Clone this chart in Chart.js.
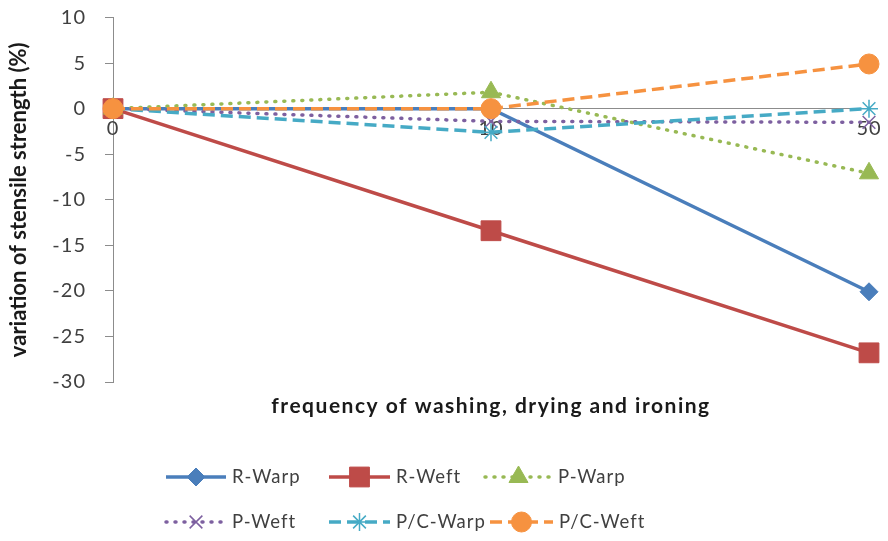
<!DOCTYPE html>
<html>
<head>
<meta charset="utf-8">
<script src="https://cdn.jsdelivr.net/npm/chart.js@4.4.1/dist/chart.umd.min.js"></script>
<style>
  html, body { margin: 0; padding: 0; background: #ffffff; }
  #wrap { width: 888px; height: 541px; position: relative; }
</style>
</head>
<body>
<div id="wrap"><canvas id="c" width="888" height="541"></canvas></div>
<script>
// Washing cycles (categories) and strength variation (%) per fabric/direction
const cycles = ['0', '10', '50'];
const rWarp   = [0, 0, -20.1];
const rWeft   = [0, -13.4, -26.8];
const pWarp   = [0, 1.8, -7.1];
const pWeft   = [0, -1.4, -1.5];
const pcWarp  = [0, -2.6, 0];
const pcWeft  = [0, 0, 4.9];
const seriesNames = ['R-Warp', 'R-Weft', 'P-Warp', 'P-Weft', 'P/C-Warp', 'P/C-Weft'];
const yTicks = [10, 5, 0, -5, -10, -15, -20, -25, -30];

const FONT = 'Lato, "Liberation Sans", sans-serif';
const TEXT = '#404040';
const AXIS = '#8c8c8c';

const styles = [
  { color: '#4A7EBB', dash: [],      cap: 'butt',  point: 'rectRot',  r: 9 },
  { color: '#BE4B48', dash: [],      cap: 'butt',  point: 'rect',     r: 14 },
  { color: '#98B954', dash: [1, 8],  cap: 'round', point: 'triangle', r: 11 },
  { color: '#7D60A0', dash: [1, 8],  cap: 'round', point: 'crossRot', r: 9 },
  { color: '#46AAC5', dash: [12, 6], cap: 'butt',  point: 'star',     r: 9 },
  { color: '#F69240', dash: [12, 6], cap: 'butt',  point: 'circle',   r: 10 }
];
const values = [rWarp, rWeft, pWarp, pWeft, pcWarp, pcWeft];

const datasets = values.map((v, i) => ({
  label: seriesNames[i],
  data: v,
  borderColor: styles[i].color,
  backgroundColor: styles[i].color,
  borderWidth: 3.5,
  borderDash: styles[i].dash,
  borderCapStyle: styles[i].cap,
  pointStyle: styles[i].point,
  pointRadius: styles[i].r,
  pointHoverRadius: styles[i].r,
  pointBorderWidth: (styles[i].point === 'crossRot' || styles[i].point === 'star') ? 1.5 : 1,
  pointBorderColor: styles[i].color,
  pointBackgroundColor: styles[i].color,
  tension: 0,
  fill: false,
  clip: false,
  order: 6 - i
}));

// Legend slots: line sample from x0 to x1, marker in the middle, label after it
const legendSlots = [
  { x0: 166, x1: 226, y: 477 }, { x0: 329, x1: 390, y: 477 }, { x0: 485, x1: 552, y: 477 },
  { x0: 166, x1: 226, y: 522 }, { x0: 329, x1: 390, y: 522 }, { x0: 490, x1: 553, y: 522 }
];

const extras = {
  id: 'extras',
  // value labels on the y axis and category labels just under the zero line
  beforeDatasetsDraw(chart) {
    const ctx = chart.ctx;
    const xs = chart.scales.x, ys = chart.scales.y;
    const y0 = ys.getPixelForValue(0);
    ctx.save();
    ctx.letterSpacing = '1px';
    ctx.fillStyle = TEXT;
    ctx.font = '20px ' + FONT;
    ctx.textBaseline = 'middle';
    ctx.textAlign = 'right';
    yTicks.forEach(v => ctx.fillText(String(v), 86, ys.getPixelForValue(v)));
    ctx.textAlign = 'center';
    cycles.forEach((lab, i) => ctx.fillText(lab, xs.getPixelForValue(i), y0 + 20));
    ctx.restore();
  },
  afterDraw(chart) {
    const ctx = chart.ctx;
    const area = chart.chartArea;
    ctx.save();
    ctx.letterSpacing = '1.5px';
    ctx.fillStyle = '#1a1a1a';
    ctx.font = 'bold 21px ' + FONT;
    ctx.textAlign = 'center';
    ctx.textBaseline = 'middle';
    ctx.fillText('frequency of washing, drying and ironing', (area.left + area.right) / 2, 406);
    ctx.restore();

    chart.data.datasets.forEach((ds, i) => {
      const s = legendSlots[i];
      ctx.save();
      ctx.strokeStyle = ds.borderColor;
      ctx.lineWidth = 3.5;
      ctx.lineCap = ds.borderCapStyle;
      ctx.setLineDash(ds.borderDash);
      ctx.beginPath();
      ctx.moveTo(s.x0, s.y);
      ctx.lineTo(s.x1, s.y);
      ctx.stroke();
      ctx.restore();

      ctx.save();
      ctx.fillStyle = ds.pointBackgroundColor;
      ctx.strokeStyle = ds.pointBorderColor;
      ctx.lineWidth = ds.pointBorderWidth;
      ctx.setLineDash([]);
      Chart.helpers.drawPoint(ctx, {
        pointStyle: ds.pointStyle,
        radius: ds.pointRadius,
        borderWidth: ds.pointBorderWidth,
        rotation: 0
      }, (s.x0 + s.x1) / 2, s.y);
      ctx.restore();

      ctx.save();
      ctx.letterSpacing = '1px';
      ctx.fillStyle = TEXT;
      ctx.font = '18.5px ' + FONT;
      ctx.textAlign = 'left';
      ctx.textBaseline = 'middle';
      ctx.fillText(ds.label, s.x1 + 6, s.y);
      ctx.restore();
    });
  }
};

new Chart(document.getElementById('c'), {
  type: 'line',
  data: { labels: cycles, datasets },
  options: {
    responsive: false,
    animation: false,
    layout: { padding: { left: 0, right: 19, top: 17.5, bottom: 159 } },
    plugins: {
      legend: { display: false },
      tooltip: { enabled: false },
      title: { display: false }
    },
    scales: {
      x: {
        type: 'category',
        offset: false,
        display: false
      },
      y: {
        min: -30,
        max: 10,
        afterFit(scale) {
          scale.width = 113;
          scale.paddingTop = 0;
          scale.paddingBottom = 0;
        },
        afterBuildTicks(scale) { scale.ticks = yTicks.map(v => ({ value: v })); },
        grid: {
          drawOnChartArea: true,
          drawTicks: true,
          tickLength: 8,
          lineWidth: 1,
          color: (c) => (c.tick && c.tick.value === 0 ? AXIS : 'rgba(0,0,0,0)'),
          tickColor: AXIS
        },
        border: { display: true, color: AXIS, width: 1 },
        ticks: {
          display: false,
          font: { family: FONT, size: 20 },
          padding: 20
        },
        title: {
          display: true,
          text: 'variation of stensile strength (%)',
          color: '#1a1a1a',
          font: { family: FONT, size: 22, weight: 'bold' },
          padding: { top: 6, bottom: 0 }
        }
      }
    }
  },
  plugins: [extras]
});
</script>
</body>
</html>
